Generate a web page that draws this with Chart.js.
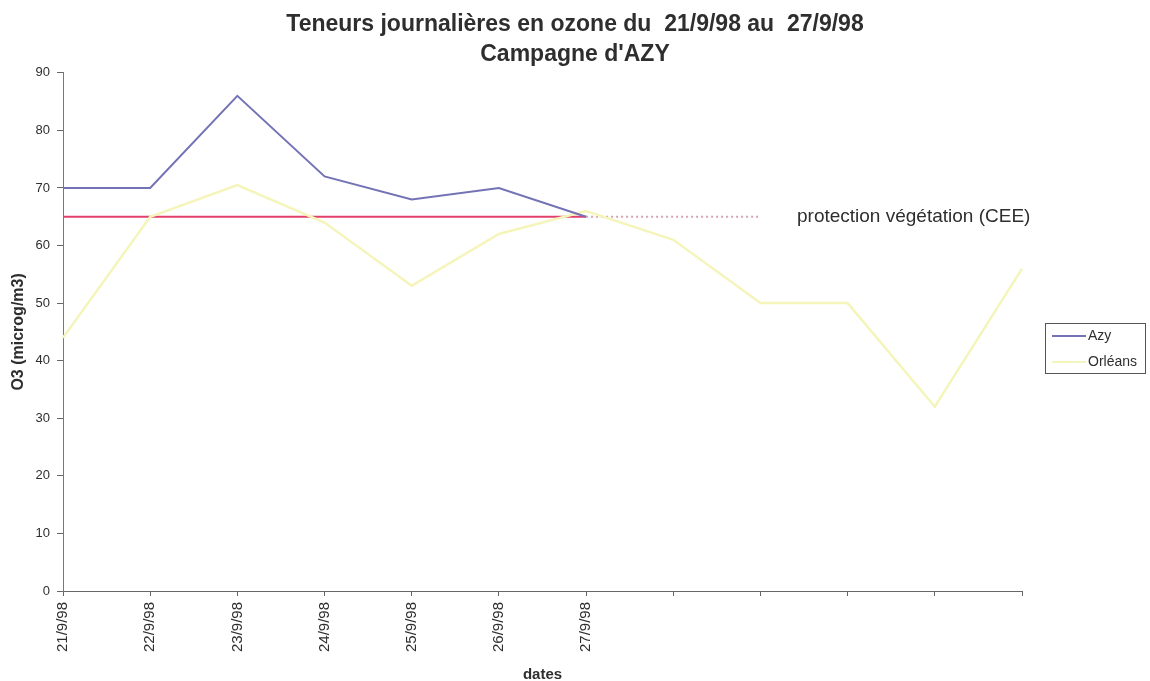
<!DOCTYPE html>
<html>
<head>
<meta charset="utf-8">
<script src="https://cdn.jsdelivr.net/npm/chart.js@4.4.1/dist/chart.umd.min.js"></script>
<style>
  body { margin: 0; background: #fff; }
  #wrap { width: 1150px; height: 681px; position: relative; }
</style>
</head>
<body>
<div id="wrap"><canvas id="chart"></canvas></div>
<script>
// dates (only the first seven are labelled on the original axis)
const dates = ["21/9/98", "22/9/98", "23/9/98", "24/9/98", "25/9/98", "26/9/98", "27/9/98", "", "", "", "", ""];
const azy = [70, 70, 86, 72, 68, 70, 65, null, null, null, null, null];
const orleans = [44, 65, 70.5, 64, 53, 62, 66, 61, 50, 50, 32, 56];
const protection = [65, 65, 65, 65, 65, 65, 65, 65, 65, null, null, null];
const protectionLabel = "protection végétation (CEE)";
const titleLines = ["Teneurs journalières en ozone du  21/9/98 au  27/9/98", "Campagne d'AZY"];

const FONT = "'Liberation Sans', Arial, sans-serif";
const TEXT = "#2e2e2e";

// label next to the threshold line + boxed legend on the right
const annotations = {
  id: "annotations",
  afterDraw(chart) {
    const { ctx, scales } = chart;
    const y = scales.y.getPixelForValue(65);
    ctx.save();
    ctx.font = "19px " + FONT;
    ctx.fillStyle = TEXT;
    ctx.textBaseline = "middle";
    ctx.textAlign = "left";
    ctx.fillText(protectionLabel, 797, y);

    // legend box
    const bx = 1045, by = 323, bw = 100, bh = 50;
    ctx.strokeStyle = "#555";
    ctx.lineWidth = 1;
    ctx.strokeRect(bx + 0.5, by + 0.5, bw, bh);
    ctx.font = "14px " + FONT;
    chart.data.datasets.slice(0, 2).forEach((ds, i) => {
      const ly = by + 13 + i * 26;
      ctx.strokeStyle = ds.borderColor;
      ctx.lineWidth = 2;
      ctx.beginPath();
      ctx.moveTo(bx + 7, ly);
      ctx.lineTo(bx + 41, ly);
      ctx.stroke();
      ctx.fillStyle = TEXT;
      ctx.fillText(ds.label, bx + 43, ly);
    });
    ctx.restore();
  }
};

new Chart(document.getElementById("chart"), {
  type: "line",
  data: {
    labels: dates,
    datasets: [
      {
        label: "Azy",
        data: azy,
        borderColor: "#7373b5",
        borderWidth: 2,
        pointRadius: 0,
        tension: 0,
        order: 1
      },
      {
        label: "Orléans",
        data: orleans,
        borderColor: "#f5f5bb",
        borderWidth: 2.5,
        pointRadius: 0,
        tension: 0,
        order: 2
      },
      {
        label: "protection",
        data: protection,
        borderColor: "#e2406a",
        borderWidth: 2,
        pointRadius: 0,
        tension: 0,
        order: 3,
        segment: {
          borderDash: c => (c.p0DataIndex >= 6 ? [2, 3] : undefined),
          borderColor: c => (c.p0DataIndex >= 6 ? "rgba(205,140,155,0.8)" : undefined)
        }
      }
    ]
  },
  options: {
    responsive: true,
    maintainAspectRatio: false,
    animation: false,
    layout: { padding: 0 },
    plugins: {
      legend: { display: false },
      tooltip: { enabled: false },
      title: {
        display: true,
        text: titleLines,
        color: TEXT,
        font: { family: FONT, size: 23, weight: "bold", lineHeight: 1.3 },
        padding: { top: 10, bottom: 3 }
      }
    },
    scales: {
      x: {
        offset: false,
        afterFit: s => { s.height = 90; },
        grid: { drawOnChartArea: false, tickLength: 5, color: "#666" },
        border: { color: "#666", width: 1 },
        ticks: {
          autoSkip: false,
          minRotation: 90,
          maxRotation: 90,
          padding: 6,
          color: TEXT,
          font: { family: FONT, size: 15 }
        },
        title: {
          display: true,
          text: "dates",
          color: TEXT,
          font: { family: FONT, size: 15, weight: "bold", lineHeight: 0.8 },
          padding: { top: 0, bottom: 0 }
        }
      },
      y: {
        min: 0,
        max: 90,
        afterFit: s => { s.width = 63; },
        grid: { drawOnChartArea: false, tickLength: 6, color: "#666" },
        border: { color: "#777", width: 1 },
        ticks: {
          stepSize: 10,
          padding: 7,
          color: TEXT,
          font: { family: FONT, size: 13 }
        },
        title: {
          display: true,
          text: "O3 (microg/m3)",
          color: TEXT,
          font: { family: FONT, size: 16, weight: "bold", lineHeight: 1.2 },
          padding: { top: 9, bottom: 0 }
        }
      },
      // empty right-hand axis that only reserves room for the legend box
      side: {
        position: "right",
        display: true,
        afterFit: s => { s.width = 128; },
        grid: { display: false },
        border: { display: false },
        ticks: { display: false }
      }
    }
  },
  plugins: [annotations]
});
</script>
</body>
</html>
